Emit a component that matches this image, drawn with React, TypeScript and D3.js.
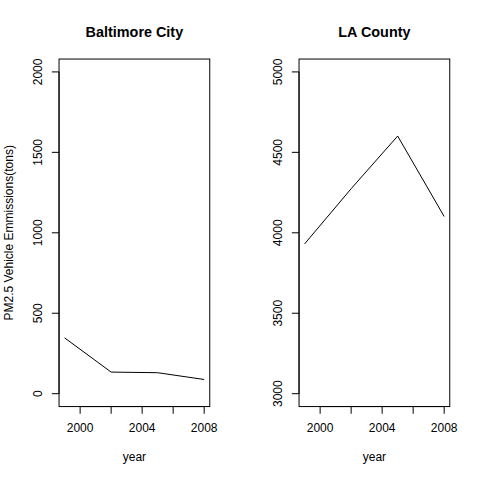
import React from 'react';
import * as d3 from 'd3';

const years = [1999, 2002, 2005, 2008];
const baltimore = [346.82, 134.31, 130.43, 88.28];
const laCounty = [3931.12, 4274.03, 4601.42, 4101.32];
const xTicks = [2000, 2002, 2004, 2006, 2008];
const xTickLabels = ['2000', '', '2004', '', '2008'];

const panels = [
  { title: 'Baltimore City', values: baltimore, ylim: [0, 2000], yTicks: [0, 500, 1000, 1500, 2000], ylab: 'PM2.5 Vehicle Emmissions(tons)' },
  { title: 'LA County', values: laCounty, ylim: [3000, 5000], yTicks: [3000, 3500, 4000, 4500, 5000], ylab: '' },
];

const W = 240, H = 480;
const line = 14.4;
const margin = { top: 4.1 * line, right: 2.1 * line, bottom: 5.1 * line, left: 4.1 * line };
const font = '"Liberation Sans", Arial, Helvetica, sans-serif';

// R-style axis extension of 4% on both sides
const ext = ([a, b]: number[]) => {
  const d = (b - a) * 0.04;
  return [a - d, b + d];
};

const Panel = ({ p, offset }: { p: typeof panels[0]; offset: number }) => {
  const x0 = margin.left, x1 = W - margin.right;
  const y0 = margin.top, y1 = H - margin.bottom;

  const x = d3.scaleLinear().domain(ext([years[0], years[years.length - 1]])).range([x0, x1]);
  const y = d3.scaleLinear().domain(ext(p.ylim)).range([y1, y0]);

  const path = d3.line<number>()
    .x((_, i) => x(years[i]))
    .y(d => y(d))(p.values) as string;

  const cx = (x0 + x1) / 2;
  const cy = (y0 + y1) / 2;

  return (
    <g transform={`translate(${offset},0)`} fontFamily={font} fill="#000">
      <text x={cx} y={36.5} textAnchor="middle" fontSize={14.4} fontWeight="bold">{p.title}</text>
      <rect x={x0} y={y0} width={x1 - x0} height={y1 - y0} fill="none" stroke="#000" strokeWidth={1} />
      <path d={path} fill="none" stroke="#000" strokeWidth={1} />

      {/* x axis */}
      <line x1={x(xTicks[0])} x2={x(xTicks[xTicks.length - 1])} y1={y1} y2={y1} stroke="#000" />
      {xTicks.map((t, i) => (
        <g key={t}>
          <line x1={x(t)} x2={x(t)} y1={y1} y2={y1 + 7.2} stroke="#000" />
          {xTickLabels[i] && (
            <text x={x(t)} y={431.7} textAnchor="middle" fontSize={12}>{xTickLabels[i]}</text>
          )}
        </g>
      ))}
      <text x={cx} y={460.7} textAnchor="middle" fontSize={12}>year</text>

      {/* y axis */}
      <line x1={x0} x2={x0} y1={y(p.yTicks[0])} y2={y(p.yTicks[p.yTicks.length - 1])} stroke="#000" />
      {p.yTicks.map(t => (
        <g key={t}>
          <line x1={x0 - 7.2} x2={x0} y1={y(t)} y2={y(t)} stroke="#000" />
          <text transform={`translate(41.7,${y(t)}) rotate(-90)`} textAnchor="middle" fontSize={12}>{t}</text>
        </g>
      ))}
      {p.ylab && (
        <text transform={`translate(12.7,${cy}) rotate(-90)`} textAnchor="middle" fontSize={12}>{p.ylab}</text>
      )}
    </g>
  );
};

export default function App() {
  return (
    <svg width={480} height={480} style={{ position: 'absolute', left: 0, top: 0, background: '#fff' }}>
      <rect width={480} height={480} fill="#fff" />
      {panels.map((p, i) => (
        <Panel key={p.title} p={p} offset={i * W} />
      ))}
    </svg>
  );
}
